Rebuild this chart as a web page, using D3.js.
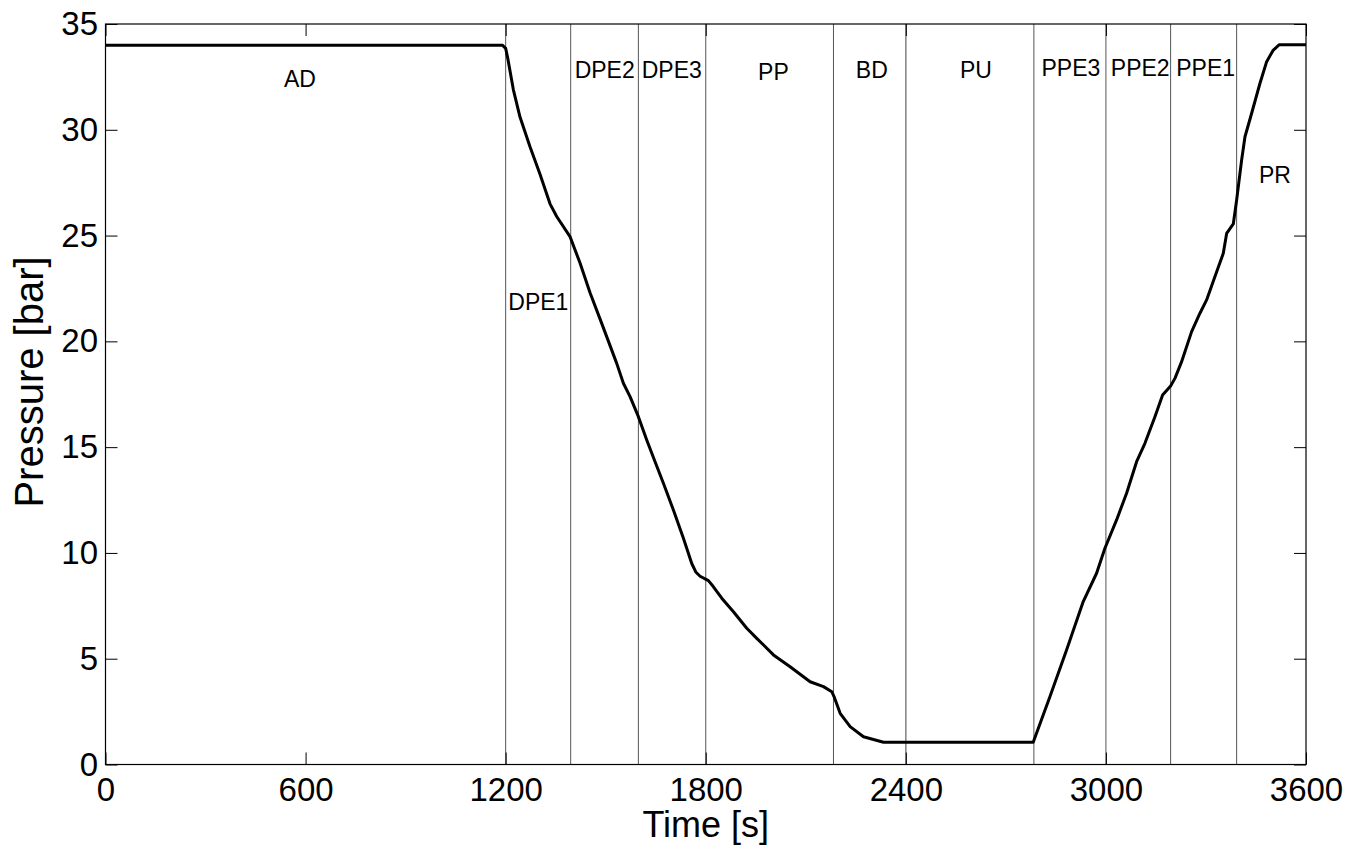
<!DOCTYPE html>
<html>
  <head>
    <meta charset="utf-8">
    <title></title>
  </head>
  <style>
  body{
      margin: 0;
      font-family: "Liberation Sans", Arial, sans-serif;
      background: #fff;
    }
  .axis path { display: none; }
  .axis line { stroke: #000; }
  .axis text { font-family: "Liberation Sans", Arial, sans-serif; fill: #000; }
  </style>
  <script src="https://d3js.org/d3.v7.min.js"></script>
  <body>
    <script>
    // pressure cycle
    var time = [0, 1190, 1200, 1206, 1223, 1243, 1273, 1303, 1333, 1353, 1393, 1423, 1453, 1488,
                1533, 1553, 1573, 1598, 1623, 1648, 1673, 1703, 1733, 1758, 1770, 1783, 1808,
                1823, 1848, 1883, 1923, 1953, 1968, 2003, 2053, 2113, 2153, 2178, 2185, 2203,
                2233, 2273, 2333, 2782, 2832, 2882, 2932, 2972, 2997, 3032, 3062, 3092, 3117,
                3147, 3170, 3194, 3207, 3227, 3257, 3282, 3302, 3327, 3352, 3362, 3382, 3392,
                3407, 3417, 3437, 3462, 3482, 3502, 3520, 3600]
    var pressure = [34, 34, 33.85, 33.4, 31.9, 30.6, 29.2, 27.9, 26.5, 25.9, 24.95, 23.7, 22.3, 20.85,
                18.96, 18.02, 17.39, 16.44, 15.34, 14.31, 13.29, 12.03, 10.69, 9.5, 9.1, 8.9, 8.69,
                8.4, 7.86, 7.22, 6.44, 5.96, 5.73, 5.18, 4.62, 3.91, 3.68, 3.44, 3.2, 2.42,
                1.79, 1.31, 1.05, 1.05, 3.2, 5.41, 7.7, 9.04, 10.22, 11.56, 12.82, 14.31, 15.18,
                16.44, 17.46, 17.89, 18.25, 19.04, 20.46, 21.33, 21.96, 23.06, 24.16, 25.1, 25.55, 26.68,
                28.57, 29.67, 30.78, 32.2, 33.22, 33.77, 34.02, 34.02]

    // step boundaries
    var phaseBounds = [1200, 1395, 1598, 1800, 2183, 2400, 2784, 3000, 3194, 3392]

    // step names and where they are written (data units)
    var phaseNames    = ["AD", "DPE1", "DPE2", "DPE3", "PP", "BD", "PU", "PPE3", "PPE2", "PPE1", "PR"]
    var phaseLabelT   = [583, 1298, 1497, 1698, 2003, 2298, 2610, 2895, 3103, 3299, 3507]
    var phaseLabelP   = [32.02, 21.48, 32.45, 32.45, 32.35, 32.45, 32.45, 32.54, 32.54, 32.54, 27.5]

    var xTicks = [0, 600, 1200, 1800, 2400, 3000, 3600]
    var yTicks = [0, 5, 10, 15, 20, 25, 30, 35]

    var W = 1350, H = 852
    var pLeft = 105.5, pRight = 1306, pTop = 24, pBottom = 764.5

    var svg = d3.select("body").append("svg")
                .attr("width", W)
                .attr("height", H)

    var x = d3.scaleLinear().domain([0, 3600]).range([pLeft, pRight])
    var y = d3.scaleLinear().domain([0, 35]).range([pBottom, pTop])

    // clip for the curve
    svg.append("clipPath").attr("id", "plot")
       .append("rect")
       .attr("x", pLeft).attr("y", pTop)
       .attr("width", pRight - pLeft).attr("height", pBottom - pTop)

    // phase boundaries
    svg.append("g").selectAll("line")
       .data(phaseBounds)
       .enter().append("line")
       .attr("x1", function(d){ return x(d) })
       .attr("x2", function(d){ return x(d) })
       .attr("y1", pTop)
       .attr("y2", pBottom)
       .attr("stroke", function(d){ return d == 2400 ? "#888" : "#555" })
       .attr("stroke-width", function(d){ return d == 2400 ? 1.6 : 1 })

    // axes, ticks pointing inward
    svg.append("g").attr("class", "axis")
       .attr("transform", "translate(0," + pBottom + ")")
       .call(d3.axisBottom(x).tickValues(xTicks).tickSize(-12).tickPadding(13).tickFormat(d3.format("d")))
       .selectAll("text").attr("font-size", "33px")

    svg.append("g").attr("class", "axis")
       .attr("transform", "translate(0," + pTop + ")")
       .call(d3.axisTop(x).tickValues(xTicks).tickSize(-12).tickFormat(""))

    svg.append("g").attr("class", "axis")
       .attr("transform", "translate(" + pLeft + ",0)")
       .call(d3.axisLeft(y).tickValues(yTicks).tickSize(-12).tickPadding(7.5).tickFormat(d3.format("d")))
       .selectAll("text").attr("font-size", "33px")

    svg.append("g").attr("class", "axis")
       .attr("transform", "translate(" + pRight + ",0)")
       .call(d3.axisRight(y).tickValues(yTicks).tickSize(-12).tickFormat(""))

    // frame
    svg.append("rect")
       .attr("x", pLeft).attr("y", pTop)
       .attr("width", pRight - pLeft).attr("height", pBottom - pTop)
       .attr("fill", "none")
       .attr("stroke", "#000")
       .attr("stroke-width", 1.2)

    // pressure curve
    var line = d3.line()
                 .x(function(d, i){ return x(time[i]) })
                 .y(function(d){ return y(d) })

    svg.append("path")
       .datum(pressure)
       .attr("clip-path", "url(#plot)")
       .attr("d", line)
       .attr("fill", "none")
       .attr("stroke", "#000")
       .attr("stroke-width", 3)
       .attr("stroke-linejoin", "round")

    // step labels
    svg.append("g").selectAll("text")
       .data(phaseNames)
       .enter().append("text")
       .attr("x", function(d, i){ return x(phaseLabelT[i]) })
       .attr("y", function(d, i){ return y(phaseLabelP[i]) })
       .attr("text-anchor", "middle")
       .attr("font-size", "23px")
       .attr("fill", "#000")
       .text(function(d){ return d })

    // axis titles
    svg.append("text")
       .attr("x", (pLeft + pRight) / 2)
       .attr("y", 837)
       .attr("text-anchor", "middle")
       .attr("font-size", "36px")
       .text("Time [s]")

    svg.append("text")
       .attr("transform", "translate(43," + 382 + ") rotate(-90)")
       .attr("text-anchor", "middle")
       .attr("font-size", "40px")
       .text("Pressure [bar]")
    </script>
  </body>
</html>
